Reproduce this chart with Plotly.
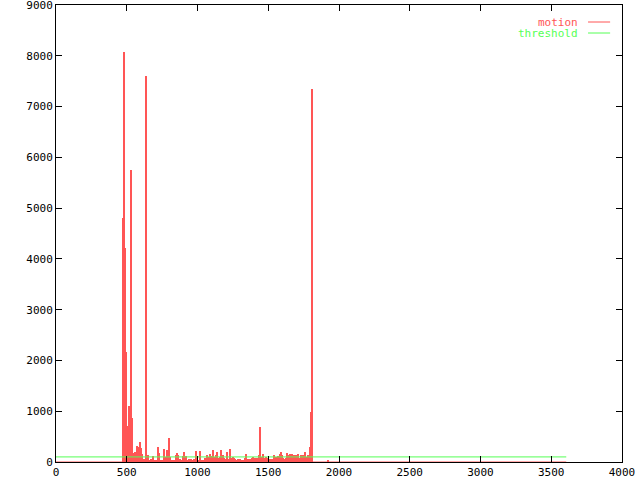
import plotly.graph_objects as go

# motion per frame bin (one bin ~ 7 frames)
bin_start = 470
bin_width = 7.07
motion_values = [
    4810, 8080, 4220, 2170, 715, 380, 1110, 885, 5750, 870,
    175, 160, 200, 160, 315, 175, 290, 395, 280, 155,
    30, 50, 60, 7600, 60, 140, 40, 20, 60, 30,
    120, 20, 40, 0, 20, 295, 180, 20, 0, 30,
    40, 255, 100, 20, 230, 40, 480, 100, 0, 20,
    40, 0, 20, 140, 180, 130, 20, 60, 0, 20,
    120, 190, 60, 120, 40, 20, 60, 0, 60, 20,
    0, 50, 20, 220, 60, 20, 0, 220, 40, 40,
    0, 20, 80, 40, 130, 40, 100, 160, 120, 90,
    240, 40, 100, 140, 200, 40, 80, 100, 230, 100,
    130, 80, 60, 40, 190, 60, 40, 255, 80, 60,
    100, 80, 60, 40, 20, 60, 20, 50, 20, 40,
    20, 0, 80, 150, 60, 20, 60, 60, 20, 80,
    100, 60, 80, 80, 60, 80, 140, 695, 100, 40,
    150, 80, 60, 90, 40, 70, 40, 50, 20, 50,
    40, 140, 90, 90, 80, 110, 120, 160, 200, 130,
    80, 60, 40, 70, 180, 100, 130, 160, 80, 160,
    90, 130, 130, 120, 130, 160, 80, 80, 130, 130,
    130, 130, 190, 90, 90, 130, 100, 290, 990, 7350,
    0, 0, 0, 0, 0, 0, 0, 0, 0, 0,
    0, 0, 0, 0, 0, 40,
]
first_frame = 0
last_frame = 3606
threshold = 100

RED = "#ff5555"
GREEN = "#55ff55"
FONT = "DejaVu Sans Mono"

motion_frames = [bin_start + i * bin_width for i in range(len(motion_values))]

fig = go.Figure()

# motion drawn as dense impulses
fig.add_trace(
    go.Bar(
        x=motion_frames,
        y=motion_values,
        width=bin_width,
        marker=dict(color=RED, line=dict(width=0)),
        showlegend=False,
    )
)

# zero level of the motion series over the whole clip
fig.add_trace(
    go.Scatter(
        x=[first_frame, last_frame],
        y=[0, 0],
        mode="lines",
        line=dict(color=RED, width=1),
        showlegend=False,
    )
)

# threshold line
fig.add_trace(
    go.Scatter(
        x=[first_frame, last_frame],
        y=[threshold, threshold],
        mode="lines",
        line=dict(color=GREEN, width=1),
        showlegend=False,
    )
)

# gnuplot style key: label then sample line
key = [("motion", RED, 0.9628), ("threshold", GREEN, 0.9387)]
for label, color, ky in key:
    fig.add_annotation(
        x=0.9258, y=ky, xref="paper", yref="paper",
        text=label, showarrow=False, xanchor="right", yanchor="middle",
        font=dict(family=FONT, size=11, color=color),
    )
    fig.add_shape(
        type="line", xref="paper", yref="paper",
        x0=0.940, x1=0.979, y0=ky, y1=ky,
        line=dict(color=color, width=1),
    )

axis_common = dict(
    showgrid=False,
    zeroline=False,
    showline=True,
    linecolor="black",
    linewidth=1,
    mirror="ticks",
    ticks="inside",
    ticklen=6,
    tickcolor="black",
    tickfont=dict(family=FONT, size=11, color="black"),
    ticklabeloverflow="allow",
    automargin=False,
)

fig.update_layout(
    width=640,
    height=480,
    template="none",
    plot_bgcolor="white",
    paper_bgcolor="white",
    margin=dict(l=56, r=18, t=5, b=18),
    bargap=0,
    showlegend=False,
    xaxis=dict(range=[0, 4000], dtick=500, tick0=0, **axis_common),
    yaxis=dict(range=[0, 9000], dtick=1000, tick0=0, **axis_common),
)

fig.write_html(
    "out.html",
    config={"displayModeBar": False},
    post_script="document.body.style.margin='0';",
)
